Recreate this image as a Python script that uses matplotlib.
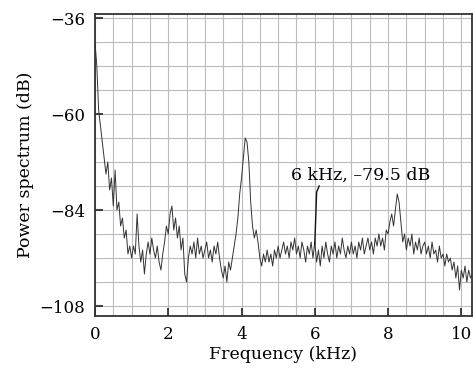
import numpy as np
import matplotlib.pyplot as plt
from matplotlib.ticker import MultipleLocator

# Power spectrum values (dB), one every 0.05 kHz starting at 0 kHz
freq_step = 0.05
power_db = [
    -42, -48, -59, -63, -67, -71, -75, -72, -79, -76,
    -83, -74, -84, -82, -88, -86, -91, -89, -95, -93,
    -96, -93, -95, -85, -93, -97, -94, -100, -95, -92,
    -95, -91, -94, -96, -93, -97, -99, -95, -92, -88,
    -90, -85, -83, -89, -86, -91, -88, -94, -91, -100,
    -102, -96, -93, -95, -92, -96, -91, -95, -93, -96,
    -94, -92, -96, -94, -97, -93, -95, -92, -96, -99,
    -101, -98, -102, -97, -99, -96, -93, -90, -86, -80,
    -76, -71, -66, -67, -72, -82, -88, -91, -89, -92,
    -96, -98, -95, -97, -94, -97, -95, -98, -94, -96,
    -93, -96, -94, -92, -95, -93, -96, -92, -94, -91,
    -95, -93, -96, -92, -94, -97, -93, -95, -92, -96,
    -92, -97, -94, -98, -93, -96, -92, -95, -97, -93,
    -95, -92, -96, -93, -95, -91, -94, -96, -93, -95,
    -92, -95, -93, -96, -92, -94, -91, -95, -93, -91,
    -94, -92, -95, -91, -93, -90, -93, -91, -94, -89,
    -90, -87, -85, -88, -84, -80, -82, -87, -92, -90,
    -94, -91, -93, -90, -95, -92, -94, -91, -95, -93,
    -92, -95, -93, -96, -92, -95, -94, -97, -93, -96,
    -95, -98, -95, -97, -96, -99, -97, -101, -98, -104,
    -99, -101, -98, -102, -99, -101, -100,
]
freq_khz = np.arange(len(power_db)) * freq_step

# callout for the 6 kHz point
callout_label = '6 kHz, \u201379.5 dB'
callout_x = [6.0, 6.05, 6.12]
callout_y = [-92.5, -79.5, -78.0]
label_x, label_y = 7.26, -75.3

xticks = [0, 2, 4, 6, 8, 10]
yticks = [-36, -60, -84, -108]

plt.rcParams['font.family'] = ['DejaVu Serif']
plt.rcParams['font.size'] = 12

fig = plt.figure(figsize=(4.73, 3.69), dpi=100)
ax = fig.add_axes([0.2008, 0.1436, 0.797, 0.8184])

ax.plot(freq_khz, power_db, color='#333333', lw=0.7)
ax.plot(callout_x, callout_y, color='#111111', lw=1.0)
ax.text(label_x, label_y, callout_label, ha='center', va='center', fontsize=12.5)

ax.set_xlim(0, 10.29)
ax.set_ylim(-110.5, -35)
ax.set_xticks(xticks)
ax.set_yticks(yticks)
ax.xaxis.set_minor_locator(MultipleLocator(0.5))
ax.yaxis.set_minor_locator(MultipleLocator(6))
ax.grid(which='both', color='#b8bbc1', lw=0.8)
ax.set_axisbelow(True)
ax.tick_params(which='major', direction='in', length=6, width=1.2, color='#222222', pad=7)
ax.tick_params(which='minor', length=0)
for s in ax.spines.values():
    s.set_color('#333333')
    s.set_linewidth(1.3)

ax.set_xlabel('Frequency (kHz)', fontsize=12.5, labelpad=2)
ax.set_ylabel('Power spectrum (dB)', fontsize=12.5, labelpad=4)

fig.savefig('out.png', dpi=100)
